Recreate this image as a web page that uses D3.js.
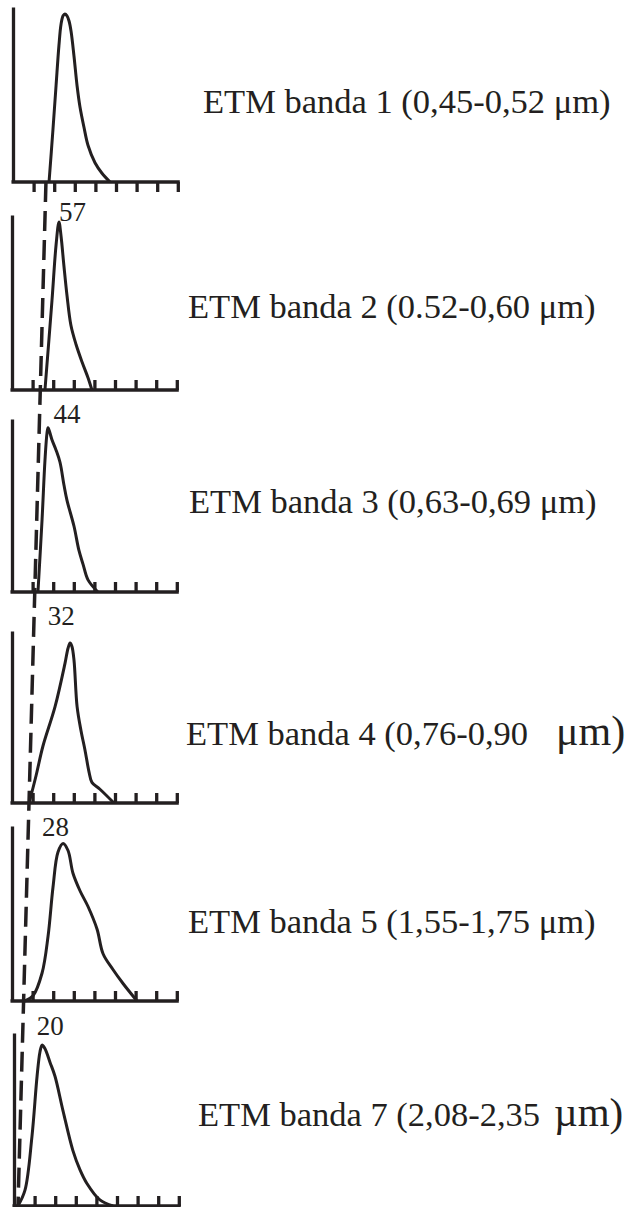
<!DOCTYPE html>
<html>
<head>
<meta charset="utf-8">
<script src="https://cdn.jsdelivr.net/npm/d3@7"></script>
<style>
  body { margin: 0; background: #fff; }
</style>
</head>
<body>
<div id="chart"></div>
<script>
// band names (right hand labels)
var bandNames = ["ETM banda 1", "ETM banda 2", "ETM banda 3", "ETM banda 4", "ETM banda 5", "ETM banda 7"];
var bandRanges = ["(0,45-0,52", "(0.52-0,60", "(0,63-0,69", "(0,76-0,90", "(1,55-1,75", "(2,08-2,35"];
// minimum values written next to the dashed line (band 1 has none)
var minValues = [null, 57, 44, 32, 28, 20];
var tickValues = [1, 2, 3, 4, 5, 6, 7, 8];

// histogram outlines: [x in tick units, relative frequency %]
var hist1 = [[1.75, 0], [1.94, 30], [2.09, 55], [2.23, 78], [2.33, 90], [2.43, 95], [2.52, 96], [2.62, 95], [2.72, 92], [2.82, 86], [2.96, 72], [3.11, 55], [3.25, 43], [3.45, 31], [3.64, 21], [3.98, 11], [4.32, 5], [4.71, 0]];
var hist2 = [[1.60, 0], [1.94, 51], [2.14, 83], [2.28, 96], [2.38, 88], [2.52, 71], [2.67, 54], [2.86, 37], [3.11, 26], [3.40, 16], [3.69, 7], [3.88, 0]];
var hist3 = [[1.26, 0], [1.46, 42], [1.60, 76], [1.70, 92], [1.75, 95], [1.84, 92], [1.94, 88], [2.14, 82], [2.33, 75], [2.52, 62], [2.67, 53], [3.01, 38], [3.25, 24], [3.45, 16], [3.69, 7], [4.17, 0]];
var hist4 = [[0.83, 0], [1.17, 16], [1.50, 33], [2.09, 56], [2.57, 81], [2.72, 90], [2.82, 93], [2.91, 91], [3.01, 83], [3.16, 56], [3.35, 42], [3.54, 31], [3.74, 18], [3.88, 12], [4.27, 8], [4.95, 0]];
var hist5 = [[0.63, 0], [1.02, 3], [1.46, 16], [1.75, 37], [1.99, 65], [2.23, 85], [2.48, 90], [2.72, 86], [2.96, 73], [3.30, 63], [3.69, 54], [4.13, 41], [4.42, 27], [4.90, 18], [5.39, 10], [6.07, 0]];
var hist6 = [[0.19, 0], [0.53, 9], [0.87, 40], [1.12, 75], [1.26, 89], [1.36, 93], [1.50, 91], [1.75, 83], [1.99, 75], [2.38, 55], [2.86, 32], [3.20, 21], [3.54, 13], [4.17, 3.5], [4.81, 0]];
var histograms = [hist1, hist2, hist3, hist4, hist5, hist6];

// dashed "dark object" line: [x in tick units, panel index]
var darkLine = [[1.60, 0], [0.24, 5]];

// layout (pixels)
var panels = [
  { x0: 13, top: 7,    bottom: 182,  ticksDown: true,  label: [203, 113], num: 0 },
  { x0: 12, top: 215,  bottom: 390,  ticksDown: false, label: [188, 318], num: 221 },
  { x0: 12, top: 419,  bottom: 592,  ticksDown: false, label: [189, 513], num: 423 },
  { x0: 12, top: 631,  bottom: 803,  ticksDown: false, label: [186, 745], num: 625 },
  { x0: 12, top: 826,  bottom: 1001, ticksDown: false, label: [188, 933], num: 836 },
  { x0: 14, top: 1033, bottom: 1206, ticksDown: false, label: [198, 1126], num: 1035 }
];
var unit = 20.6;
var ink = "#231f20";
var serif = "'Liberation Serif', 'Times New Roman', serif";

var svg = d3.select("#chart")
  .append("svg")
  .attr("width", 633)
  .attr("height", 1207);

var line = d3.line().curve(d3.curveCatmullRom.alpha(0.5));

panels.forEach(function(p, i) {
  var x = d3.scaleLinear().domain([0, 8]).range([p.x0, p.x0 + 8 * unit]);
  var y = d3.scaleLinear().domain([0, 100]).range([p.bottom, p.top]);

  var xAxis = (p.ticksDown ? d3.axisBottom(x) : d3.axisTop(x))
    .tickValues(tickValues)
    .tickSizeInner(10)
    .tickSizeOuter(0)
    .tickFormat("");

  var gx = svg.append("g")
    .attr("transform", "translate(0," + p.bottom + ")")
    .call(xAxis);
  gx.selectAll("path, line").attr("stroke", ink).attr("stroke-width", 3.3);
  gx.select(".domain").attr("d", "M" + (p.x0 - 1.5) + ",0H" + (x(8) + 2));

  var gy = svg.append("g")
    .attr("transform", "translate(" + p.x0 + ",0)")
    .call(d3.axisLeft(y).tickValues([]).tickSizeOuter(0));
  gy.selectAll("path").attr("stroke", ink).attr("stroke-width", 3.3);

  svg.append("path")
    .datum(histograms[i])
    .attr("fill", "none")
    .attr("stroke", ink)
    .attr("stroke-width", 3)
    .attr("stroke-linejoin", "round")
    .attr("d", line.x(function(d) { return x(d[0]); }).y(function(d) { return y(d[1]); }));

  var t = svg.append("text")
    .attr("x", p.label[0])
    .attr("y", p.label[1])
    .attr("font-family", serif)
    .attr("font-size", 34.5)
    .attr("fill", ink)
    .text(bandNames[i] + " " + bandRanges[i]);
  if (i == 3) {
    t.append("tspan").attr("dx", 28).attr("font-size", 42).text("\u03bcm)");
  } else if (i == 5) {
    t.append("tspan").attr("dx", 14).attr("font-size", 41).text("\u00b5m)");
  } else {
    t.append("tspan").text(" \u03bcm)");
  }
});

// dashed line across panels, in panel-1 x units
var xd = d3.scaleLinear().domain([0, 8]).range([panels[0].x0, panels[0].x0 + 8 * unit]);
var yd = d3.scaleLinear().domain([0, 5]).range([panels[0].bottom, 1208]);

svg.append("path")
  .datum(darkLine)
  .attr("fill", "none")
  .attr("stroke", ink)
  .attr("stroke-width", 3.5)
  .attr("stroke-dasharray", "20,9")
  .attr("d", d3.line().x(function(d) { return xd(d[0]); }).y(function(d) { return yd(d[1]); }));

// min value labels, just right of the dashed line
var dashX = function(py) {
  var t = yd.invert(py);
  return xd(darkLine[0][0] + (darkLine[1][0] - darkLine[0][0]) * t / 5);
};
panels.forEach(function(p, i) {
  if (minValues[i] == null) return;
  svg.append("text")
    .attr("x", dashX(p.num) + 14)
    .attr("y", p.num)
    .attr("font-family", serif)
    .attr("font-size", 27)
    .attr("fill", ink)
    .text(minValues[i]);
});
</script>
</body>
</html>
